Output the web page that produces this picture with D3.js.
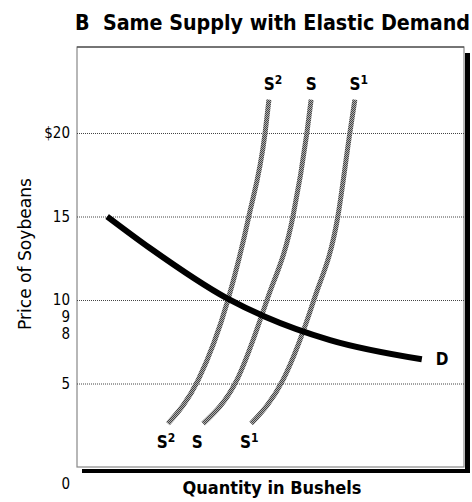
<!DOCTYPE html>
<html>
<head>
<meta charset="utf-8">
<script src="https://cdn.jsdelivr.net/npm/d3@7"></script>
<style>
  body { margin: 0; background: #fff; }
  svg { display: block; }
</style>
</head>
<body>
<div id="chart"></div>
<script>
// price ticks on the left, gridlines only at the round ones
const priceTicks = [5, 8, 9, 10, 15, 20];
const gridPrices = [5, 10, 15, 20];

// demand curve (quantity, price)
const demandQ = [7.8, 18.9, 38.8, 48.6, 65.4, 89.1];
const demandP = [15.0, 13.1, 10.1, 9.0, 7.6, 6.45];

// supply curves share the same price points
const supplyP = [2.6, 5.2, 10, 15, 20, 22];
const supplyS2 = [23.5, 31.3, 39.0, 44.4, 48.6, 49.6];
const supplyS = [32.6, 41.3, 49.1, 55.8, 59.4, 60.5];
const supplyS1 = [45.0, 53.2, 61.2, 67.4, 70.5, 71.8];
const supplyNames = ["2", "", "1"];

const W = 472, H = 502;
const margin = {top: 47, right: 8, bottom: 35, left: 77};
const width = W - margin.left - margin.right,
      height = H - margin.top - margin.bottom;

const svg = d3.select("#chart").append("svg")
    .attr("width", W)
    .attr("height", H);

// dithered grey like the print version
const defs = svg.append("defs");
const pat = defs.append("pattern")
    .attr("id", "dither")
    .attr("patternUnits", "userSpaceOnUse")
    .attr("width", 2).attr("height", 2);
pat.append("rect").attr("width", 2).attr("height", 2).attr("fill", "#b0b0b0");
pat.append("rect").attr("width", 1).attr("height", 1).attr("fill", "#444");
pat.append("rect").attr("x", 1).attr("y", 1).attr("width", 1).attr("height", 1).attr("fill", "#444");

const g = svg.append("g")
    .attr("transform", `translate(${margin.left},${margin.top})`);

const x = d3.scaleLinear().domain([0, 100]).range([0, width]);
const y = d3.scaleLinear().domain([0, 25.15]).range([height, 0]);

const fontReg = "'DejaVu Sans Condensed', 'DejaVu Sans', sans-serif";

// title
svg.append("text")
    .attr("x", 75).attr("y", 30)
    .attr("textLength", 395)
    .attr("lengthAdjust", "spacingAndGlyphs")
    .style("font-family", fontReg)
    .style("font-weight", "bold")
    .style("font-size", "21px")
    .style("white-space", "pre")
    .text("B  Same Supply with Elastic Demand");

// shadow on right and bottom
g.append("rect")
    .attr("x", width + 1).attr("y", 6)
    .attr("width", 5).attr("height", height)
    .attr("fill", "#000");
g.append("rect")
    .attr("x", 5).attr("y", height + 2)
    .attr("width", width + 1).attr("height", 4)
    .attr("fill", "#000");
g.append("rect")
    .attr("width", width).attr("height", height)
    .attr("fill", "#fff")
    .attr("stroke", "#888")
    .attr("stroke-width", 1.2);
g.append("line")
    .attr("x1", 0).attr("x2", width)
    .attr("y1", 0).attr("y2", 0)
    .attr("stroke", "#333");

// gridlines
g.append("g")
    .call(d3.axisLeft(y).tickValues(gridPrices).tickSize(-width).tickFormat(""))
    .call(a => a.select(".domain").remove())
    .call(a => a.selectAll("line")
        .attr("stroke", "#444")
        .attr("stroke-dasharray", "1,1"));

// y tick labels
g.append("g")
    .call(d3.axisLeft(y).tickValues(priceTicks).tickSize(0).tickPadding(7)
        .tickFormat(d => d === 20 ? "$20" : d))
    .call(a => a.select(".domain").remove())
    .call(a => a.selectAll("text")
        .style("font-family", fontReg)
        .style("font-size", "15px")
        .attr("fill", "#000"));

g.append("text")
    .attr("x", -7).attr("y", y(0) + 22)
    .attr("text-anchor", "end")
    .style("font-family", fontReg)
    .style("font-size", "15px")
    .attr("fill", "#000")
    .text("0");

// axis titles
svg.append("text")
    .attr("transform", "translate(31,254) rotate(-90)")
    .attr("text-anchor", "middle")
    .attr("textLength", 152)
    .attr("lengthAdjust", "spacingAndGlyphs")
    .style("font-family", fontReg)
    .style("font-size", "17px")
    .text("Price of Soybeans");

svg.append("text")
    .attr("x", 272).attr("y", 494)
    .attr("text-anchor", "middle")
    .attr("textLength", 179)
    .attr("lengthAdjust", "spacingAndGlyphs")
    .style("font-family", fontReg)
    .style("font-weight", "bold")
    .style("font-size", "17px")
    .text("Quantity in Bushels");

// supply curves
const line = d3.line()
    .x(d => x(d[0]))
    .y(d => y(d[1]))
    .curve(d3.curveMonotoneX);

const supplies = [supplyS2, supplyS, supplyS1].map((qs, i) => ({
    name: supplyNames[i],
    pts: qs.map((q, j) => [q, supplyP[j]])
}));

g.selectAll(".supply")
    .data(supplies)
    .join("path")
    .attr("class", "supply")
    .attr("d", d => line(d.pts))
    .attr("fill", "none")
    .attr("stroke", "url(#dither)")
    .attr("stroke-width", 5);

// demand curve
g.append("path")
    .attr("d", line(demandQ.map((q, i) => [q, demandP[i]])))
    .attr("fill", "none")
    .attr("stroke", "#000")
    .attr("stroke-width", 6);

// curve labels
function supplyLabel(d, px, py) {
    const t = g.append("text")
        .attr("x", px).attr("y", py)
        .attr("text-anchor", "middle")
        .style("font-family", fontReg)
        .style("font-weight", "bold")
        .style("font-size", "17px");
    t.append("tspan").text("S");
    if (d.name) {
        t.append("tspan")
            .attr("dy", -6)
            .style("font-size", "12px")
            .text(d.name);
    }
}
supplies.forEach(d => {
    const top = d.pts[d.pts.length - 1], bot = d.pts[0];
    supplyLabel(d, x(top[0]) + (d.name ? 4 : 0), y(top[1]) - 10);
    supplyLabel(d, x(bot[0]) - 6 + (d.name ? 4 : 0), y(bot[1]) + 24);
});

g.append("text")
    .attr("x", x(demandQ[demandQ.length - 1]) + 14)
    .attr("y", y(demandP[demandP.length - 1]) + 6)
    .style("font-family", fontReg)
    .style("font-weight", "bold")
    .style("font-size", "17px")
    .text("D");
</script>
</body>
</html>
